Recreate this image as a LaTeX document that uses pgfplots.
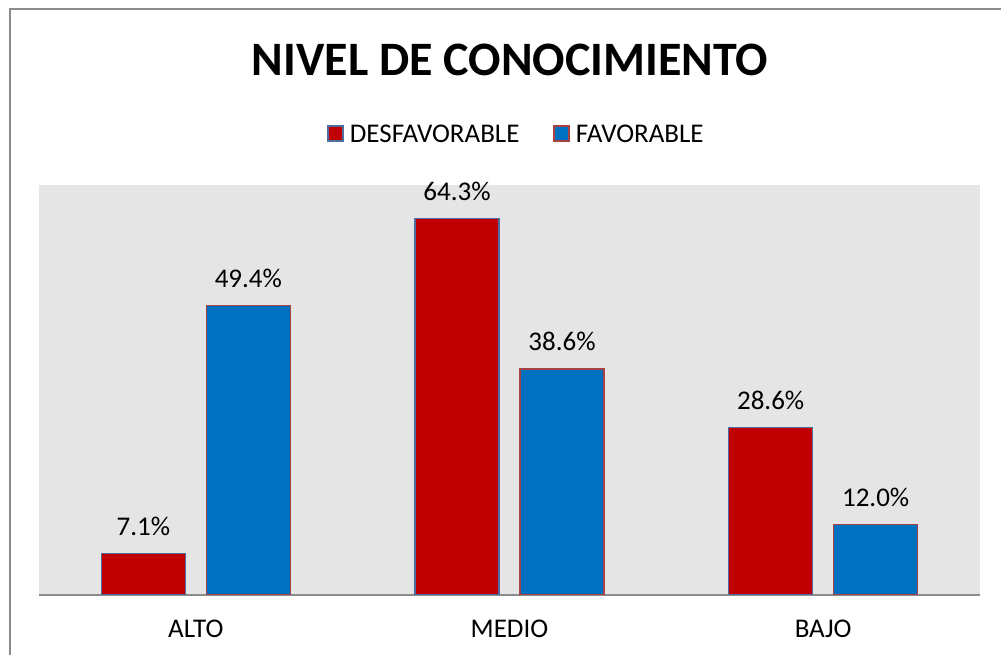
\documentclass[border=0pt]{standalone}
\usepackage{fontspec}
\setmainfont{Carlito}
\usepackage{pgfplots}
\pgfplotsset{compat=1.18}
\definecolor{barred}{RGB}{192,0,0}
\definecolor{barblue}{RGB}{0,112,192}
\definecolor{edgered}{RGB}{168,66,66}
\definecolor{edgeblue}{RGB}{79,110,160}
\definecolor{plotbg}{RGB}{229,229,229}
\definecolor{framegray}{RGB}{140,140,140}
\pgfplotsset{
  sqlegend/.style={legend image code/.code={\draw[##1,line width=1.5pt] (0pt,-7pt) rectangle (15pt,8pt);}}
}
\begin{document}
\begin{tikzpicture}[x=1pt,y=1pt]
\useasboundingbox (0,0) rectangle (1001,655);
\draw[framegray, line width=2pt] (9.5,0) -- (9.5,645.5) -- (1001,645.5);
\begin{axis}[
  at={(39pt,60pt)}, anchor=south west,
  scale only axis, width=941pt, height=410pt,
  ybar=21pt, bar width=84pt,
  xmin=-0.5, xmax=2.5, ymin=0, ymax=70,
  xtick={0,1,2}, xticklabels={ALTO,MEDIO,BAJO},
  ytick=\empty,
  major tick length=0pt,
  axis x line=bottom, axis y line=none,
  x axis line style={-, framegray, line width=2pt},
  axis background/.style={fill=plotbg},
  xticklabel style={font=\fontsize{27}{32}\selectfont, anchor=north, inner sep=0pt, yshift=-25pt},
  /pgf/number format/assume math mode=true,
  nodes near coords={\pgfmathprintnumber[fixed,fixed zerofill,precision=1]{\pgfplotspointmeta}\%},
  every node near coord/.append style={font=\fontsize{27}{32}\selectfont, inner sep=0pt, yshift=17pt, text=black},
  title={NIVEL DE CONOCIMIENTO},
  title style={at={(0.5005,1.2659)}, anchor=base, yshift=-6pt, font=\fontsize{48}{58}\selectfont\bfseries, inner sep=0pt},
  legend columns=2,
  legend style={at={(0.5064,1.1244)}, anchor=center, draw=none, fill=none,
    font=\fontsize{27}{32}\selectfont,
    nodes={inner sep=0pt},
    /tikz/every odd column/.append style={column sep=6pt},
    /tikz/every even column/.append style={column sep=34pt}},
]
\addplot[fill=barred, draw=edgeblue, line width=1.5pt, sqlegend] coordinates {(0,7.1) (1,64.3) (2,28.6)};
\addplot[fill=barblue, draw=edgered, line width=1.5pt, sqlegend] coordinates {(0,49.4) (1,38.6) (2,12.0)};
\legend{DESFAVORABLE,FAVORABLE}
\end{axis}
\end{tikzpicture}
\end{document}
